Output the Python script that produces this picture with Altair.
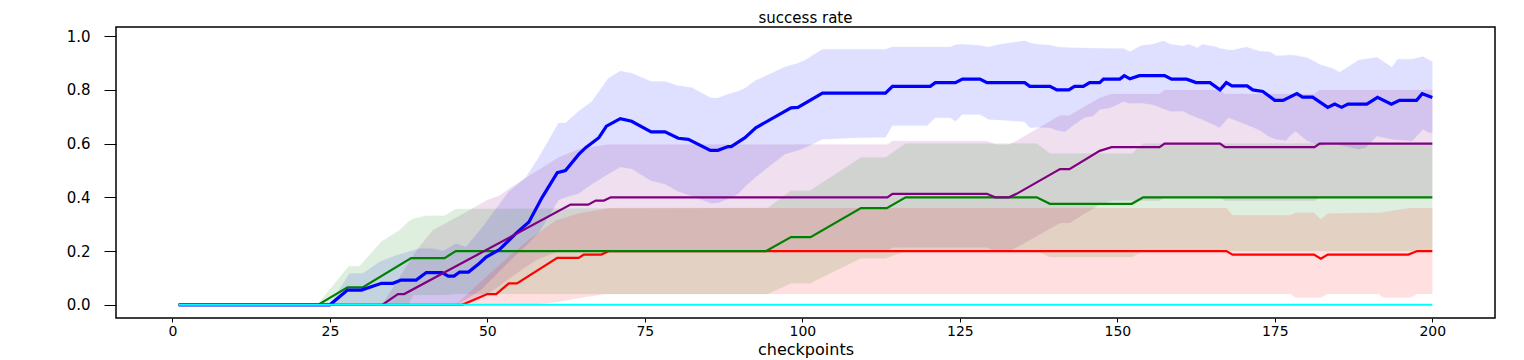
import altair as alt
import pandas as pd

# ---------------- data ----------------
# mean lines
blue_x = [1, 25, 27.8, 30, 33.2, 35, 36.3, 38.7, 40.3, 42.8, 43.8, 44.7, 45.6, 47, 48.7, 49.8, 51.9, 54.5,
          56.6, 58.7, 61.1, 62.4, 64.5, 65.6, 67.7, 68.9, 71.1, 72.9, 76, 78.2, 80.3, 81.9, 85.4, 86.6,
          88.2, 88.7, 90.9, 92.6, 98.2, 99.3, 103.2, 113.2, 114.3, 120.3, 121.1, 124.3, 125.4, 128.2,
          129.3, 135.3, 136.1, 139.3, 140.4, 142.3, 143.2, 144.6, 145.6, 147.2, 147.8, 150.4, 151.1,
          152, 153.5, 157.5, 158.6, 161, 162.5, 164.7, 166.3, 167.3, 168.2, 170.6, 171.5, 173.1, 175,
          176.3, 178.5, 179.4, 181, 183.4, 184.5, 185.6, 186.6, 189.6, 191.3, 193.5, 194.8, 197.5,
          198.4, 200]
blue_y = [0, 0, 0.055, 0.055, 0.08, 0.08, 0.092, 0.092, 0.12, 0.12, 0.107, 0.107, 0.122, 0.122, 0.154,
          0.178, 0.205, 0.265, 0.308, 0.4, 0.492, 0.5, 0.56, 0.585, 0.622, 0.665, 0.693, 0.683, 0.644,
          0.644, 0.62, 0.616, 0.575, 0.575, 0.589, 0.589, 0.622, 0.659, 0.733, 0.735, 0.788, 0.788,
          0.813, 0.813, 0.827, 0.827, 0.84, 0.84, 0.827, 0.827, 0.813, 0.813, 0.8, 0.8, 0.813, 0.813,
          0.827, 0.827, 0.84, 0.84, 0.853, 0.841, 0.853, 0.853, 0.84, 0.84, 0.827, 0.827, 0.8, 0.827,
          0.815, 0.815, 0.8, 0.794, 0.761, 0.761, 0.786, 0.773, 0.773, 0.735, 0.747, 0.735, 0.747,
          0.747, 0.772, 0.747, 0.761, 0.761, 0.786, 0.772]

purple_x = [1, 33.3, 35.8, 36.8, 63.2, 66, 67.2, 68.5, 69.6, 113.5, 114.3, 129.3, 130.6, 132.8, 134,
            140.9, 142.4, 147.2, 149.1, 156.7, 157.5, 166.3, 167.1, 181.3, 182.1, 200]
purple_y = [0, 0, 0.04, 0.04, 0.373, 0.373, 0.388, 0.388, 0.4, 0.4, 0.413, 0.413, 0.4, 0.4, 0.413,
            0.505, 0.505, 0.573, 0.587, 0.587, 0.6, 0.6, 0.587, 0.587, 0.6, 0.6]

green_x = [1, 23.1, 27.8, 30.2, 37.9, 43.2, 45, 94.2, 98.2, 101.3, 109.3, 113.4, 116.4, 137.2, 139.3,
           152.3, 154.1, 200]
green_y = [0, 0, 0.065, 0.065, 0.174, 0.174, 0.2, 0.2, 0.252, 0.252, 0.36, 0.36, 0.4, 0.4, 0.376,
           0.376, 0.4, 0.4]

red_x = [1, 46, 50, 51.4, 53.4, 54.7, 61.1, 64.5, 65.3, 68.1, 69.3, 167.3, 168.3, 181.2, 182.3, 183.4,
         196.2, 197.6, 200]
red_y = [0, 0, 0.04, 0.04, 0.08, 0.08, 0.175, 0.175, 0.187, 0.187, 0.2, 0.2, 0.187, 0.187, 0.172,
         0.187, 0.187, 0.2, 0.2]

cyan_x = [1, 200]
cyan_y = [0, 0]

# shaded bands (lower / upper)
blue_band_x = [1, 25, 28.1, 30.2, 32.9, 35.6, 39.2, 41.3, 43, 45, 46.6, 49.2, 53.4, 56.1, 58.2, 61.3,
               62.4, 64.5, 66.6, 69.2, 71.1, 72.9, 76, 78.2, 80.3, 82.4, 85.5, 86.6, 88.2, 89.8, 90.9,
               92.5, 94.5, 97.2, 99.3, 100.4, 103.2, 108.8, 113.2, 114.3, 119.8, 121.1, 123.5, 124.3,
               125.4, 128.2, 129.6, 131.4, 134.5, 135.3, 136.1, 137.2, 139.3, 140.4, 141.7, 142.8,
               144.7, 146.2, 147.2, 148.8, 151, 152, 153.8, 155.7, 157.3, 158.4, 160.5, 161.3, 162.7,
               163.5, 165.8, 166.2, 167.6, 168.4, 170.5, 172.6, 174.2, 175.2, 176.8, 177.4, 178.3,
               180.2, 182.3, 184.2, 185.3, 188.3, 189.4, 191.2, 193.6, 194.5, 196.8, 198.5, 199.5, 200]
blue_lo = [0, 0, 0, 0, 0, 0, 0, 0, 0, 0, 0.02, 0.06, 0.16, 0.22, 0.27, 0.39, 0.4, 0.414, 0.45, 0.487,
           0.513, 0.506, 0.462, 0.45, 0.422, 0.406, 0.378, 0.38, 0.394, 0.413, 0.44, 0.474, 0.511, 0.56,
           0.575, 0.585, 0.616, 0.622, 0.624, 0.667, 0.667, 0.696, 0.696, 0.683, 0.708, 0.708, 0.69,
           0.688, 0.683, 0.68, 0.659, 0.661, 0.659, 0.65, 0.644, 0.665, 0.696, 0.704, 0.727, 0.733,
           0.757, 0.75, 0.751, 0.745, 0.73, 0.72, 0.72, 0.71, 0.696, 0.69, 0.665, 0.659, 0.696, 0.69,
           0.671, 0.65, 0.625, 0.616, 0.612, 0.63, 0.646, 0.61, 0.592, 0.603, 0.595, 0.579, 0.585,
           0.628, 0.616, 0.614, 0.61, 0.653, 0.64, 0.64]
blue_hi = [0, 0, 0.117, 0.117, 0.16, 0.185, 0.21, 0.21, 0.2, 0.228, 0.215, 0.289, 0.421, 0.474, 0.55,
           0.677, 0.677, 0.72, 0.757, 0.843, 0.87, 0.862, 0.831, 0.831, 0.815, 0.809, 0.77, 0.77, 0.784,
           0.795, 0.806, 0.834, 0.855, 0.885, 0.899, 0.91, 0.951, 0.951, 0.951, 0.96, 0.96, 0.96, 0.96,
           0.968, 0.97, 0.965, 0.96, 0.97, 0.98, 0.983, 0.975, 0.97, 0.967, 0.96, 0.958, 0.957, 0.956,
           0.955, 0.955, 0.954, 0.954, 0.942, 0.965, 0.97, 0.983, 0.97, 0.963, 0.97, 0.957, 0.97, 0.96,
           0.955, 0.948, 0.948, 0.96, 0.944, 0.942, 0.927, 0.928, 0.93, 0.928, 0.92, 0.893, 0.88,
           0.866, 0.911, 0.915, 0.921, 0.884, 0.914, 0.914, 0.924, 0.911, 0.905]

purple_band_x = [1, 33.3, 36, 38.7, 41.3, 46.6, 50, 51.9, 53, 56, 58, 61.3, 64.5, 69.2, 113.5, 114.3,
                 129.3, 130.6, 132.8, 134, 140.9, 142.4, 147.2, 149.1, 156.7, 157.5, 166.3, 167.1,
                 181.3, 182.1, 200]
purple_lo = [0, 0, 0, 0, 0, 0, 0.04, 0.07, 0.09, 0.14, 0.17, 0.2, 0.2, 0.2, 0.2, 0.213, 0.213, 0.2,
             0.2, 0.213, 0.305, 0.305, 0.373, 0.387, 0.387, 0.4, 0.4, 0.387, 0.387, 0.4, 0.4]
purple_hi = [0, 0, 0.1, 0.2, 0.277, 0.345, 0.39, 0.406, 0.425, 0.47, 0.5, 0.548, 0.579, 0.597, 0.597,
             0.61, 0.61, 0.597, 0.597, 0.61, 0.705, 0.705, 0.77, 0.785, 0.785, 0.8, 0.8, 0.785, 0.785,
             0.8, 0.8]

green_band_x = [1, 23, 28, 29.7, 33.2, 36, 37.5, 38.2, 40.3, 43.2, 45, 94.5, 98.2, 101.2, 109.3, 113.2,
                116.4, 137.2, 139.3, 152.3, 154.1, 200]
green_lo = [0, 0, 0, 0, 0, 0, 0, 0.037, 0.037, 0.037, 0.04, 0.04, 0.08, 0.08, 0.173, 0.173, 0.2, 0.2,
            0.178, 0.178, 0.2, 0.2]
green_hi = [0, 0, 0.144, 0.144, 0.236, 0.277, 0.31, 0.32, 0.332, 0.332, 0.357, 0.36, 0.425, 0.425,
            0.548, 0.548, 0.6, 0.6, 0.563, 0.563, 0.6, 0.6]

red_band_x = [1, 45, 48.7, 53.9, 57, 60.9, 64.5, 68.8, 69.3, 167.3, 168.3, 177.5, 178.3, 181.2, 182.3,
              183.4, 191.5, 192.2, 196.5, 197.6, 200]
red_lo = [0, 0, 0, 0, 0, 0.01, 0.025, 0.04, 0.04, 0.04, 0.04, 0.04, 0.027, 0.027, 0.027, 0.04, 0.04,
          0.027, 0.027, 0.04, 0.04]
red_hi = [0, 0, 0.08, 0.19, 0.25, 0.314, 0.34, 0.358, 0.36, 0.36, 0.333, 0.333, 0.343, 0.343, 0.318,
          0.34, 0.343, 0.345, 0.36, 0.36, 0.36]

x_ticks = [0, 25, 50, 75, 100, 125, 150, 175, 200]
y_ticks = [0.0, 0.2, 0.4, 0.6, 0.8, 1.0]

colors = {"blue": "#0000ff", "purple": "#800080", "green": "#008000", "red": "#ff0000", "cyan": "#00ffff"}

# ---------------- chart ----------------
FONT = "DejaVu Sans"
xs = alt.Scale(domain=[-8.95, 209.95], nice=False, zero=False)
ys = alt.Scale(domain=[-0.049, 1.034], nice=False, zero=False)

x_axis = alt.Axis(values=x_ticks, title="checkpoints", grid=False, domain=False, tickSize=4,
                  labelPadding=2, labelFontSize=14, labelFont=FONT, labelColor="black",
                  titleFont=FONT, titleFontSize=16, titleFontWeight="normal", titleColor="black",
                  titlePadding=3, tickColor="black", labelFlush=False)
y_axis = alt.Axis(values=y_ticks, format=".1f", title=None, grid=False, domain=False, tickSize=12,
                  labelPadding=14, labelFontSize=15, labelFont=FONT, labelColor="black",
                  tickColor="black")


def band(name, bx, lo, hi):
    df = pd.DataFrame({"x": bx, "lo": lo, "hi": hi})
    c = colors[name]
    return alt.Chart(df).mark_area(color=c, opacity=0.12, stroke=c, strokeOpacity=0.15,
                                   strokeWidth=1, clip=True).encode(
        x=alt.X("x:Q", scale=xs, axis=x_axis),
        y=alt.Y("lo:Q", scale=ys, axis=y_axis),
        y2="hi:Q")


def line(name, lx, ly, w):
    df = pd.DataFrame({"x": lx, "y": ly})
    return alt.Chart(df).mark_line(color=colors[name], strokeWidth=w, clip=True).encode(
        x=alt.X("x:Q", scale=xs, axis=x_axis),
        y=alt.Y("y:Q", scale=ys, axis=y_axis))


layers = [
    band("blue", blue_band_x, blue_lo, blue_hi),
    band("purple", purple_band_x, purple_lo, purple_hi),
    band("green", green_band_x, green_lo, green_hi),
    band("red", red_band_x, red_lo, red_hi),
    line("red", red_x, red_y, 2.2),
    line("green", green_x, green_y, 2.2),
    line("blue", blue_x, blue_y, 3.2),
    line("purple", purple_x, purple_y, 2.2),
    line("cyan", cyan_x, cyan_y, 2),
]

chart = alt.layer(*layers).properties(
    width=1379, height=291,
    title=alt.TitleParams("success rate", font=FONT, fontSize=15, fontWeight="normal",
                          color="black", offset=1, anchor="middle"),
    autosize=alt.AutoSizeParams(type="none"),
    padding={"left": 108, "top": 19, "right": 14, "bottom": 42},
    background="white",
).configure_view(stroke="black", strokeWidth=1.5)

chart.save("out.html", embed_options={"renderer": "svg", "actions": False})
